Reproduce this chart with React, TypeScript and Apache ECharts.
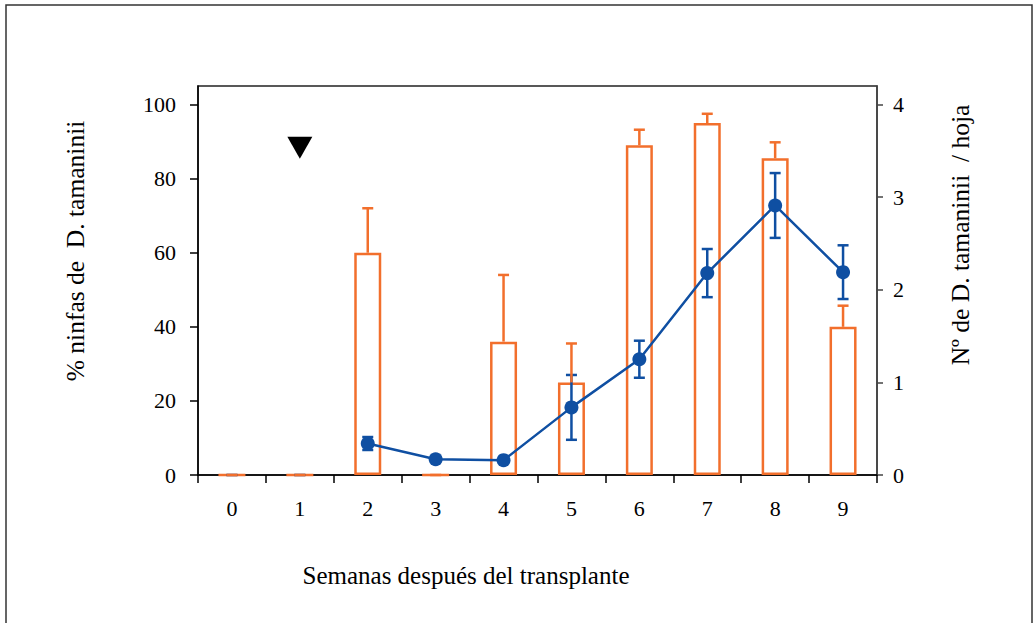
import React, { useEffect, useRef } from "react";
import * as echarts from "echarts";

const categories = ["0", "1", "2", "3", "4", "5", "6", "7", "8", "9"];
const pctNymphs = [0, 0, 60, 0, 36, 25, 89, 95, 85.5, 40];
const pctNymphsErr = [0, 0, 12, 0, 18, 10.5, 4.2, 2.5, 4.3, 5.7];
const perLeaf: (number | null)[] = [null, null, 0.34, 0.17, 0.16, 0.73, 1.25, 2.18, 2.91, 2.19];
const perLeafErr = [0, 0, 0.07, 0, 0, 0.35, 0.2, 0.26, 0.35, 0.29];
const leftTicks = [0, 20, 40, 60, 80, 100];
const rightTicks = [0, 1, 2, 3, 4];
const transplantMarker = [[1, 88.3]];

const ORANGE = "#F26F2C";
const BLUE = "#0F4FA2";
const FONT = "'Liberation Serif', 'Times New Roman', serif";

function makeErrRender(color: string, twoSided: boolean) {
  return (params: any, api: any) => {
    const x = api.value(0);
    const lo = api.value(1);
    const hi = api.value(2);
    const p1 = api.coord([x, lo]);
    const p2 = api.coord([x, hi]);
    const hw = 5.5;
    const style = { stroke: color, lineWidth: 2.5 };
    const children: any[] = [];
    if (hi > lo) {
      children.push({ type: "line", shape: { x1: p1[0], y1: p1[1], x2: p2[0], y2: p2[1] }, style });
      children.push({ type: "line", shape: { x1: p2[0] - hw, y1: p2[1], x2: p2[0] + hw, y2: p2[1] }, style });
      if (twoSided) {
        children.push({ type: "line", shape: { x1: p1[0] - hw, y1: p1[1], x2: p1[0] + hw, y2: p1[1] }, style });
      }
    } else {
      children.push({ type: "line", shape: { x1: p1[0] - hw, y1: p1[1], x2: p1[0] + hw, y2: p1[1] }, style });
    }
    return { type: "group", children };
  };
}

export default function App() {
  const ref = useRef<HTMLDivElement>(null);
  useEffect(() => {
    if (!ref.current) return;
    const chart = echarts.init(ref.current, null, { renderer: "svg" });

    const orangeErr = pctNymphs.map((v, i) => [i, v, v + pctNymphsErr[i]]);
    const blueErr: number[][] = [];
    perLeaf.forEach((v, i) => {
      if (v === null) blueErr.push([i, 0, 0]);
      else if (perLeafErr[i] > 0) blueErr.push([i, v - perLeafErr[i], v + perLeafErr[i]]);
    });

    chart.setOption({
      animation: false,
      backgroundColor: "#ffffff",
      grid: {
        left: 198,
        top: 86,
        right: 157,
        bottom: 148,
        show: true,
        borderColor: "#222",
        borderWidth: 1.5,
        backgroundColor: "transparent",
      },
      xAxis: {
        type: "category",
        data: categories,
        boundaryGap: true,
        axisLine: { lineStyle: { color: "#000", width: 1.5 } },
        axisTick: { show: true, inside: false, length: 8, interval: 0, lineStyle: { color: "#000", width: 1.5 } },
        axisLabel: { color: "#000", fontSize: 22, fontFamily: FONT, margin: 22 },
        splitLine: { show: false },
      },
      yAxis: [
        {
          type: "value",
          min: 0,
          max: 105,
          interval: 5,
          position: "left",
          axisLine: { show: true, lineStyle: { color: "#000", width: 1.5 } },
          axisTick: { show: true, length: 8, customValues: leftTicks, lineStyle: { color: "#000", width: 1.5 } },
          axisLabel: { color: "#000", fontSize: 22, fontFamily: FONT, margin: 22, customValues: leftTicks },
          splitLine: { show: false },
        },
        {
          type: "value",
          min: 0,
          max: 4.2,
          interval: 0.2,
          position: "right",
          axisLine: { show: true, lineStyle: { color: "#444", width: 1.5 } },
          axisTick: { show: true, length: 6, customValues: rightTicks, lineStyle: { color: "#444", width: 1.5 } },
          axisLabel: { color: "#000", fontSize: 22, fontFamily: FONT, margin: 16, customValues: rightTicks },
          splitLine: { show: false },
        },
      ],
      series: [
        {
          type: "bar",
          data: pctNymphs,
          yAxisIndex: 0,
          barWidth: 27,
          itemStyle: { color: "#ffffff", borderColor: ORANGE, borderWidth: 2.5 },
          z: 2,
        },
        {
          type: "custom",
          yAxisIndex: 1,
          data: blueErr,
          encode: { x: 0, y: [1, 2] },
          renderItem: makeErrRender(BLUE, true),
          z: 3,
        },
        {
          type: "custom",
          yAxisIndex: 0,
          data: orangeErr,
          encode: { x: 0, y: [1, 2] },
          renderItem: makeErrRender(ORANGE, false),
          z: 4,
        },
        {
          type: "line",
          yAxisIndex: 1,
          data: perLeaf.map((v) => (v === null ? "-" : v)),
          symbol: "circle",
          symbolSize: 14,
          itemStyle: { color: BLUE },
          lineStyle: { color: BLUE, width: 2.5 },
          z: 5,
        },
        {
          type: "scatter",
          yAxisIndex: 0,
          data: transplantMarker,
          symbol: "triangle",
          symbolRotate: 180,
          symbolSize: [25, 22],
          itemStyle: { color: "#000", opacity: 1 },
          z: 6,
        },
      ],
      graphic: [
        {
          type: "rect",
          shape: { x: 6, y: 5, width: 1026, height: 640 },
          style: { fill: "none", stroke: "#333", lineWidth: 1.5 },
          silent: true,
        },
        {
          type: "text",
          x: 75,
          y: 251,
          rotation: Math.PI / 2,
          style: {
            text: "% ninfas de  D. tamaninii",
            fontSize: 25.5,
            fontFamily: FONT,
            fill: "#000",
            align: "center",
            verticalAlign: "middle",
          },
        },
        {
          type: "text",
          x: 960,
          y: 235,
          rotation: Math.PI / 2,
          style: {
            text: "Nº de D. tamaninii  / hoja",
            fontSize: 25.5,
            fontFamily: FONT,
            fill: "#000",
            align: "center",
            verticalAlign: "middle",
          },
        },
        {
          type: "text",
          x: 466,
          y: 575,
          style: {
            text: "Semanas después del transplante",
            fontSize: 25,
            fontFamily: FONT,
            fill: "#000",
            align: "center",
            verticalAlign: "middle",
          },
        },
      ],
    });
    return () => chart.dispose();
  }, []);
  return (
    <div
      ref={ref}
      style={{ position: "fixed", left: 0, top: 0, width: 1034, height: 623, background: "#fff" }}
    />
  );
}
